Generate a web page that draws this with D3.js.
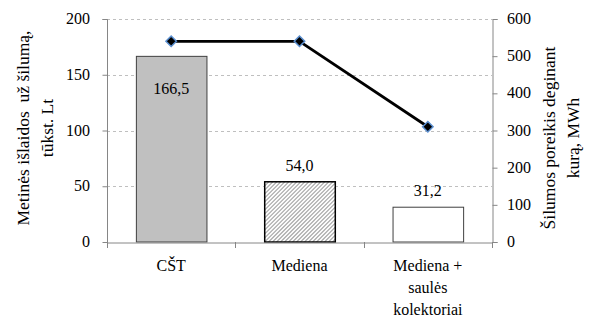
<!DOCTYPE html>
<html><head><meta charset="utf-8">
<script src="https://cdn.jsdelivr.net/npm/d3@7"></script>
<style>
body{margin:0;background:#fff}
#wrap{position:relative;width:590px;height:318px;font-family:'Liberation Serif';color:#000}
#wrap svg{position:absolute;left:0;top:0;display:block}
.lbl{position:absolute;white-space:pre;font-size:16px;line-height:16px}
</style>
</head><body><div id="wrap"><svg id="c" width="590" height="318"></svg></div>
<script>
const categories = [["CŠT"], ["Mediena"], ["Mediena +", "saulės", "kolektoriai"]];
const costValues = [166.5, 54.0, 31.2];
const costLabels = ["166,5", "54,0", "31,2"];
const demandValues = [540, 540, 310];
const leftTicks = [0, 50, 100, 150, 200];
const rightTicks = [0, 100, 200, 300, 400, 500, 600];
const leftTitle = ["Metinės išlaidos  už šilumą,", "tūkst. Lt"];
const rightTitle = ["Šilumos poreikis deginant", "kurą, MWh"];

const svg = d3.select("#c");
const wrap = d3.select("#wrap");
const L = 107, R = 492, T = 19, B = 242;
const x = d3.scaleBand().domain(d3.range(3)).range([L, R]).paddingInner(0.45).paddingOuter(0.225);
const xb = d3.scaleBand().domain(d3.range(3)).range([L, R]);
const yL = d3.scaleLinear().domain([0, 200]).range([B, T]);
const yR = d3.scaleLinear().domain([0, 600]).range([B, T]);

// gridlines
svg.append("g").selectAll("line").data(leftTicks.filter(d => d > 0)).join("line")
  .attr("x1", L).attr("x2", R).attr("y1", d => Math.round(yL(d)) + 0.5).attr("y2", d => Math.round(yL(d)) + 0.5)
  .attr("stroke", "#bfbfbf").attr("stroke-dasharray", "3,3");

// bars
const fills = ["#c0c0c0", "#fff", "#fff"];
const strokes = ["#404040", "#000", "#404040"];
const sw = [1, 1.5, 1];
const bars = svg.append("g");
bars.selectAll("rect.f").data(costValues).join("rect").attr("class", "f")
  .attr("x", (d, i) => x(i) + 0.5).attr("width", x.bandwidth())
  .attr("y", d => yL(d)).attr("height", d => B - yL(d))
  .attr("fill", (d, i) => fills[i]);
(function () {
  const i = 1, x0 = x(i) + 0.5, x1 = x0 + x.bandwidth(), y0 = yL(costValues[i]), y1 = B;
  const segs = [];
  for (let k = x0 + y0; k <= x1 + y1; k += 4) {
    const xa = Math.max(x0, k - y1), xe = Math.min(x1, k - y0);
    if (xe > xa) segs.push([xa, k - xa, xe, k - xe]);
  }
  bars.append("g").selectAll("line").data(segs).join("line")
    .attr("x1", s => s[0]).attr("y1", s => s[1]).attr("x2", s => s[2]).attr("y2", s => s[3])
    .attr("stroke", "#a6a6a6").attr("stroke-width", 1.1);
})();
bars.selectAll("rect.o").data(costValues).join("rect").attr("class", "o")
  .attr("x", (d, i) => x(i) + 0.5).attr("width", x.bandwidth())
  .attr("y", d => yL(d)).attr("height", d => B - yL(d))
  .attr("fill", "none").attr("stroke", (d, i) => strokes[i]).attr("stroke-width", (d, i) => sw[i]);

// axes (lines)
const axL = svg.append("g").attr("transform", `translate(${L + 0.5},0)`)
  .call(d3.axisLeft(yL).tickValues(leftTicks).tickSize(5).tickFormat(() => ""));
const axR = svg.append("g").attr("transform", `translate(${R + 0.5},0)`)
  .call(d3.axisRight(yR).tickValues(rightTicks).tickSize(5).tickFormat(() => ""));
const axB = svg.append("g").attr("transform", `translate(0,${B + 0.5})`)
  .call(d3.axisBottom(xb).tickSize(0).tickFormat(() => ""));
[axL, axR, axB].forEach(a => { a.selectAll("path,line").attr("stroke", "#868686"); a.selectAll("text").remove(); });
axL.select(".domain").attr("d", `M-5,${T + 0.5}H0V${B}`);
svg.append("g").selectAll("line").data([L, xb(1), xb(2), R]).join("line")
  .attr("x1", d => Math.round(d) + 0.5).attr("x2", d => Math.round(d) + 0.5).attr("y1", B).attr("y2", B + 6)
  .attr("stroke", "#868686");

// line + markers
const cx = i => xb(i) + xb.bandwidth() / 2;
svg.append("path").datum(demandValues)
  .attr("d", d3.line().x((d, i) => cx(i)).y(d => yR(d)))
  .attr("fill", "none").attr("stroke", "#000").attr("stroke-width", 2.8);
svg.append("g").selectAll("path").data(demandValues).join("path")
  .attr("transform", (d, i) => `translate(${cx(i)},${yR(d)})`)
  .attr("d", d3.symbol(d3.symbolDiamond2, 70))
  .attr("fill", "#000").attr("stroke", "#5b8fd0").attr("stroke-width", 1.5);

// text as HTML labels
wrap.selectAll("div.yl").data(leftTicks).join("div").attr("class", "lbl yl")
  .style("right", (590 - (L - 17)) + "px").style("top", d => yL(d) + "px")
  .style("transform", "translateY(-50%)").text(d => d);
wrap.selectAll("div.yr").data(rightTicks).join("div").attr("class", "lbl yr")
  .style("left", (R + 15) + "px").style("top", d => yR(d) + "px")
  .style("transform", "translateY(-50%)").text(d => d);
wrap.selectAll("div.cat").data(categories).join("div").attr("class", "lbl cat")
  .style("left", (d, i) => cx(i) + "px").style("top", "255px")
  .style("line-height", "22px").style("text-align", "center")
  .style("transform", "translateX(-50%)").text(d => d.join("\n"));
wrap.selectAll("div.val").data(costValues).join("div").attr("class", "lbl val")
  .style("left", (d, i) => (x(i) + x.bandwidth() / 2) + "px")
  .style("top", (d, i) => (i === 0 ? yL(d) + 33 : yL(d) - 16) + "px")
  .style("transform", "translate(-50%,-50%)").text((d, i) => costLabels[i]);
const titles = [{ lines: leftTitle, cx: 35, cy: 128 }, { lines: rightTitle, cx: 561, cy: 138 }];
wrap.selectAll("div.ttl").data(titles).join("div").attr("class", "lbl ttl")
  .style("left", d => d.cx + "px").style("top", d => d.cy + "px")
  .style("font-size", "17.5px").style("line-height", "24px").style("text-align", "center")
  .style("transform", "translate(-50%,-50%) rotate(-90deg)").text(d => d.lines.join("\n"));
</script></body></html>
